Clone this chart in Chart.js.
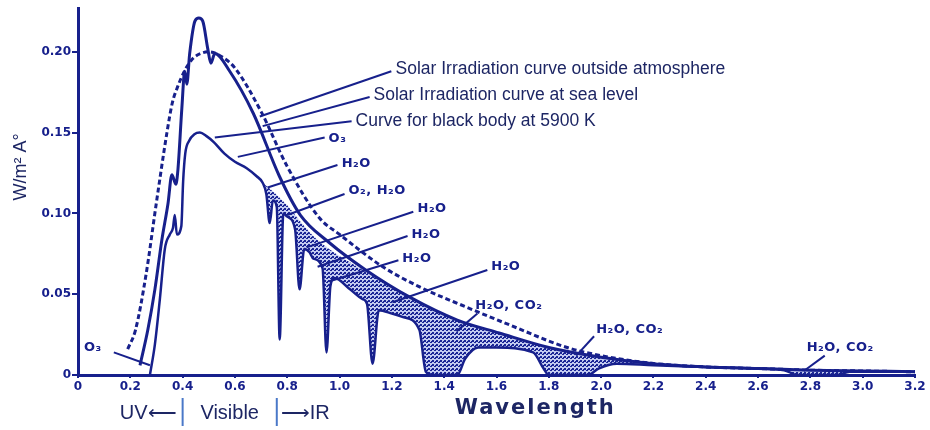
<!DOCTYPE html>
<html>
<head>
<meta charset="utf-8">
<script src="https://cdn.jsdelivr.net/npm/chart.js@4.4.1/dist/chart.umd.min.js"></script>
<style>
   html, body { margin: 0; padding: 0; background: #fff; }
   #wrap { width: 930px; height: 430px; }
</style>
</head>
<body>
<div id="wrap"><canvas id="myChart" width="930" height="430"></canvas></div>
<script>
// wavelength (micron) / irradiance (W/m2 A)
const wlOutside = [0.237, 0.267, 0.294, 0.321, 0.344, 0.359, 0.374, 0.382, 0.397, 0.408, 0.416, 0.427, 0.447, 0.462, 0.477, 0.496, 0.508, 0.523, 0.58, 0.67, 0.77, 0.85, 0.96, 1.10, 1.27, 1.45, 1.61, 1.80, 2.00, 2.20, 2.40, 2.60, 2.80, 3.00, 3.20];
const outside = [0.006, 0.028, 0.053, 0.084, 0.106, 0.124, 0.118, 0.127, 0.165, 0.188, 0.180, 0.199, 0.219, 0.221, 0.219, 0.202, 0.193, 0.199, 0.188, 0.162, 0.123, 0.099, 0.082, 0.065, 0.048, 0.034, 0.026, 0.017, 0.011, 0.007, 0.005, 0.004, 0.003, 0.0025, 0.002];

const wlSeaLevel = [0.275, 0.294, 0.313, 0.332, 0.351, 0.363, 0.370, 0.378, 0.395, 0.402, 0.41, 0.425, 0.445, 0.466, 0.49, 0.52, 0.56, 0.60, 0.645, 0.683, 0.706, 0.72, 0.733, 0.745, 0.76, 0.771, 0.785, 0.80, 0.83, 0.847, 0.865, 0.885, 0.90, 0.935, 0.95, 0.965, 0.98, 1.04, 1.088, 1.105, 1.126, 1.15, 1.20, 1.24, 1.305, 1.33, 1.36, 1.45, 1.48, 1.53, 1.60, 1.74, 1.78, 1.80, 1.95, 1.99, 2.06, 2.20, 2.40, 2.60, 2.70, 2.75, 2.90, 2.95, 3.20];
const seaLevel = [0.0, 0.019, 0.047, 0.078, 0.087, 0.091, 0.099, 0.087, 0.092, 0.120, 0.137, 0.145, 0.149, 0.150, 0.148, 0.144, 0.137, 0.132, 0.128, 0.123, 0.119, 0.112, 0.094, 0.108, 0.104, 0.022, 0.100, 0.098, 0.090, 0.053, 0.078, 0.076, 0.072, 0.066, 0.014, 0.055, 0.060, 0.053, 0.047, 0.044, 0.007, 0.040, 0.038, 0.036, 0.028, 0.002, 0.0, 0.0, 0.010, 0.017, 0.017, 0.014, 0.004, 0.0, 0.0, 0.004, 0.007, 0.006, 0.005, 0.004, 0.003, 0.0, 0.0, 0.002, 0.002];

// top edge of the shaded absorption bands
const wlBands = [0.69, 0.75, 0.80, 0.85, 0.90, 0.96, 1.10, 1.27, 1.45, 1.61, 1.80, 2.00, 2.20, 2.40, 2.60, 2.80, 3.00, 3.20];
const bandTop = [0.121, 0.113, 0.105, 0.095, 0.086, 0.078, 0.064, 0.048, 0.034, 0.026, 0.017, 0.011, 0.007, 0.005, 0.004, 0.003, 0.0025, 0.002];

const wlBlackBody = [0.19, 0.22, 0.26, 0.30, 0.34, 0.36, 0.38, 0.41, 0.44, 0.47, 0.50, 0.55, 0.60, 0.70, 0.80, 0.924, 1.00, 1.165, 1.30, 1.485, 1.65, 1.87, 2.00, 2.18, 2.40, 2.60, 2.80, 3.00, 3.20];
const blackBody = [0.016, 0.028, 0.062, 0.107, 0.150, 0.168, 0.178, 0.189, 0.196, 0.199, 0.200, 0.197, 0.190, 0.163, 0.129, 0.097, 0.087, 0.067, 0.055, 0.042, 0.031, 0.017, 0.012, 0.0075, 0.005, 0.004, 0.003, 0.0025, 0.002];

const xTicks = [0, 0.2, 0.4, 0.6, 0.8, 1.0, 1.2, 1.4, 1.6, 1.8, 2.0, 2.2, 2.4, 2.6, 2.8, 3.0, 3.2];
const yTicks = [0, 0.05, 0.10, 0.15, 0.20];

// labels with leader lines: text spot, line start, tip on curve (data units)
const notes = [
   { text: 'Solar Irradiation curve outside atmosphere', tx: 1.214, ty: 0.189, x0: 1.198, y0: 0.188, x1: 0.695, y1: 0.160, big: true },
   { text: 'Solar Irradiation curve at sea level', tx: 1.130, ty: 0.173, x0: 1.115, y0: 0.172, x1: 0.706, y1: 0.154, big: true },
   { text: 'Curve for black body at 5900 K', tx: 1.061, ty: 0.157, x0: 1.046, y0: 0.157, x1: 0.523, y1: 0.147, big: true },
   { text: 'O₃', tx: 0.958, ty: 0.146, x0: 0.943, y0: 0.147, x1: 0.611, y1: 0.135 },
   { text: 'H₂O', tx: 1.008, ty: 0.131, x0: 0.992, y0: 0.130, x1: 0.725, y1: 0.116 },
   { text: 'O₂, H₂O', tx: 1.034, ty: 0.114, x0: 1.019, y0: 0.112, x1: 0.800, y1: 0.099 },
   { text: 'H₂O', tx: 1.298, ty: 0.103, x0: 1.282, y0: 0.101, x1: 0.874, y1: 0.079 },
   { text: 'H₂O', tx: 1.275, ty: 0.087, x0: 1.260, y0: 0.086, x1: 0.916, y1: 0.067 },
   { text: 'H₂O', tx: 1.240, ty: 0.072, x0: 1.225, y0: 0.071, x1: 0.962, y1: 0.058 },
   { text: 'H₂O', tx: 1.580, ty: 0.067, x0: 1.565, y0: 0.065, x1: 1.202, y1: 0.045 },
   { text: 'H₂O, CO₂', tx: 1.519, ty: 0.043, x0: 1.527, y0: 0.038, x1: 1.447, y1: 0.027 },
   { text: 'H₂O, CO₂', tx: 1.981, ty: 0.028, x0: 1.973, y0: 0.024, x1: 1.905, y1: 0.012 },
   { text: 'H₂O, CO₂', tx: 2.786, ty: 0.017, x0: 2.855, y0: 0.012, x1: 2.775, y1: 0.0025 },
   { text: 'O₃', tx: 0.023, ty: 0.017, x0: 0.137, y0: 0.014, x1: 0.275, y1: 0.006 }
];

const NAVY = '#17208c';
const INK = '#1d2664';

function points(xs, ys) {
   return xs.map((x, i) => ({ x: x, y: ys[i] }));
}

function stipple() {
   const c = document.createElement('canvas');
   c.width = 4; c.height = 4;
   const g = c.getContext('2d');
   g.fillStyle = '#c3cbf0';
   g.fillRect(0, 0, 4, 4);
   g.fillStyle = '#1c2796';
   g.fillRect(0, 0, 2, 2);
   g.fillRect(2, 2, 2, 1);
   g.fillRect(3, 1, 1, 1);
   return g.createPattern(c, 'repeat');
}

const notesPlugin = {
   id: 'notes',
   afterDatasetsDraw(chart) {
      const ctx = chart.ctx, xs = chart.scales.x, ys = chart.scales.y;
      ctx.save();
      notes.forEach(n => {
         ctx.strokeStyle = NAVY;
         ctx.lineWidth = 2;
         ctx.beginPath();
         ctx.moveTo(xs.getPixelForValue(n.x0), ys.getPixelForValue(n.y0));
         ctx.lineTo(xs.getPixelForValue(n.x1), ys.getPixelForValue(n.y1));
         ctx.stroke();
         ctx.fillStyle = n.big ? INK : NAVY;
         ctx.font = n.big ? '17.5px "Liberation Sans"' : 'bold 13px "DejaVu Sans"';
         ctx.letterSpacing = n.big ? '0px' : '0.5px';
         ctx.textBaseline = 'middle';
         ctx.textAlign = 'left';
         ctx.fillText(n.text, xs.getPixelForValue(n.tx), ys.getPixelForValue(n.ty));
      });
      ctx.restore();
   },
   afterDraw(chart) {
      const ctx = chart.ctx, xs = chart.scales.x;
      ctx.save();
      // y title
      ctx.fillStyle = INK;
      ctx.font = '18px "Liberation Sans"';
      ctx.textAlign = 'center';
      ctx.textBaseline = 'middle';
      ctx.translate(21, 167);
      ctx.rotate(-Math.PI / 2);
      ctx.fillText('W/m² A°', 0, 0);
      ctx.restore();

      ctx.save();
      ctx.textBaseline = 'middle';
      ctx.fillStyle = INK;
      ctx.font = 'bold 21px "DejaVu Sans"';
      ctx.letterSpacing = '2px';
      ctx.textAlign = 'center';
      ctx.fillText('Wavelength', xs.getPixelForValue(1.748), 409);
      ctx.letterSpacing = '0px';

      // UV / Visible / IR band marks under the axis
      const b1 = xs.getPixelForValue(0.4), b2 = xs.getPixelForValue(0.76);
      ctx.font = '20px "Liberation Sans"';
      ctx.textAlign = 'right';
      ctx.fillText('UV⟵', b1 - 6, 413);
      ctx.textAlign = 'center';
      ctx.fillText('Visible', (b1 + b2) / 2, 413);
      ctx.textAlign = 'left';
      ctx.fillText('⟶IR', b2 + 4, 413);
      ctx.strokeStyle = '#4a78c8';
      ctx.lineWidth = 2;
      [b1, b2].forEach(b => {
         ctx.beginPath();
         ctx.moveTo(b, 398);
         ctx.lineTo(b, 426);
         ctx.stroke();
      });
      ctx.restore();
   }
};

const lineBase = {
   pointRadius: 0,
   fill: false,
   cubicInterpolationMode: 'monotone',
   borderColor: NAVY
};

const myChart = new Chart(document.getElementById('myChart').getContext('2d'), {
   type: 'line',
   data: {
      datasets: [
         Object.assign({}, lineBase, {
            label: 'Solar Irradiation curve outside atmosphere',
            data: points(wlOutside, outside),
            borderWidth: 3
         }),
         Object.assign({}, lineBase, {
            label: 'Absorption bands',
            data: points(wlBands, bandTop),
            borderWidth: 0,
            borderColor: 'rgba(0,0,0,0)'
         }),
         Object.assign({}, lineBase, {
            label: 'Solar Irradiation curve at sea level',
            data: points(wlSeaLevel, seaLevel),
            borderWidth: 2.5,
            fill: { target: 1, above: stipple(), below: stipple() }
         }),
         Object.assign({}, lineBase, {
            label: 'Curve for black body at 5900 K',
            data: points(wlBlackBody, blackBody),
            borderWidth: 3,
            borderDash: [5, 3]
         })
      ]
   },
   options: {
      responsive: false,
      animation: false,
      events: [],
      layout: { padding: { top: 8, right: 15, left: 0, bottom: 0 } },
      plugins: { legend: { display: false }, tooltip: { enabled: false } },
      scales: {
         x: {
            type: 'linear',
            min: 0,
            max: 3.2,
            afterFit: s => { s.height = 55; },
            afterBuildTicks: s => { s.ticks = xTicks.map(v => ({ value: v })); },
            border: { display: true, color: NAVY, width: 3 },
            grid: { drawOnChartArea: false, color: NAVY, tickLength: 3, lineWidth: 2 },
            ticks: {
               color: NAVY,
               padding: 2,
               maxRotation: 0,
               autoSkip: false,
               font: { family: 'DejaVu Sans', size: 12, weight: 'bold' },
               callback: v => v === 0 ? '0' : v.toFixed(1)
            }
         },
         y: {
            min: 0,
            max: 0.227,
            afterFit: s => { s.width = 78; },
            afterBuildTicks: s => { s.ticks = yTicks.map(v => ({ value: v })); },
            border: { display: true, color: NAVY, width: 3 },
            grid: { drawOnChartArea: false, color: NAVY, tickLength: 6, lineWidth: 2 },
            ticks: {
               color: NAVY,
               padding: 1,
               autoSkip: false,
               font: { family: 'DejaVu Sans', size: 12, weight: 'bold' },
               callback: v => v === 0 ? '0' : v.toFixed(2)
            }
         }
      }
   },
   plugins: [notesPlugin]
});
</script>
</body>
</html>
